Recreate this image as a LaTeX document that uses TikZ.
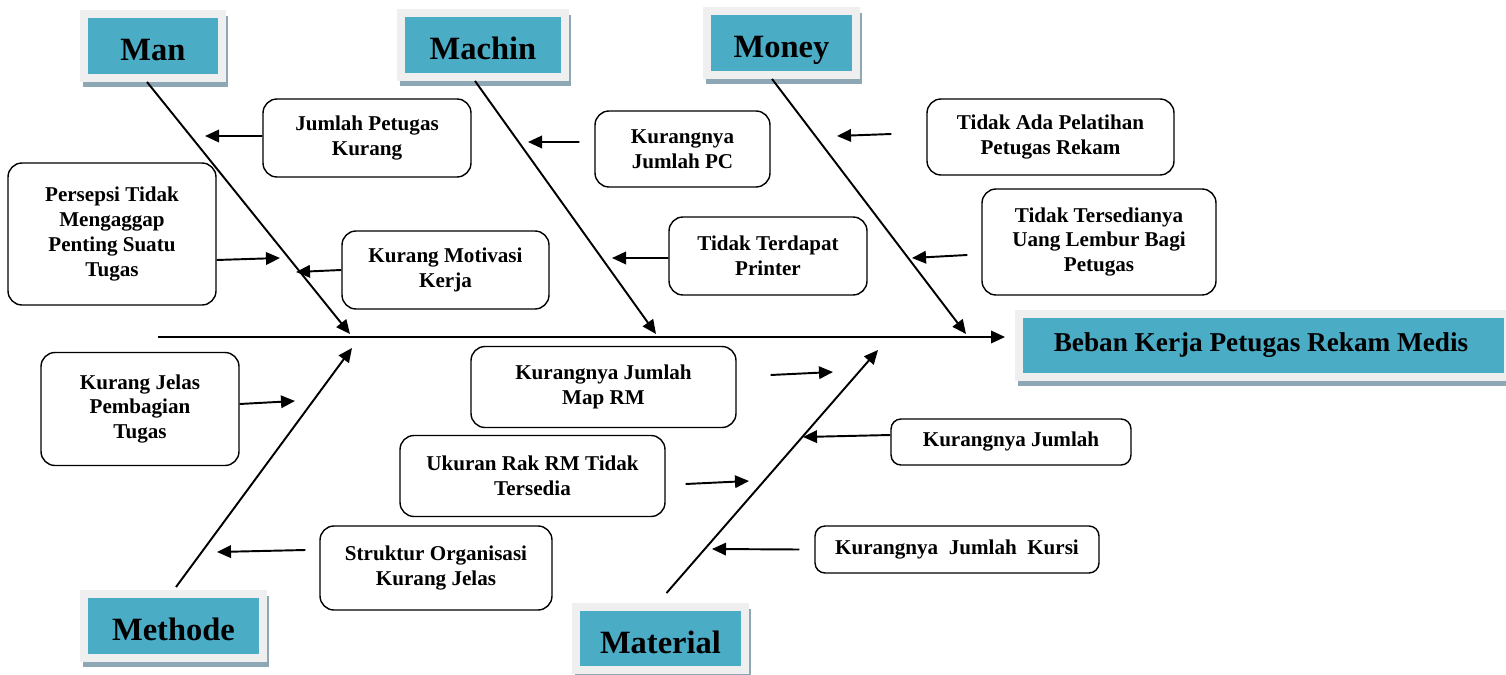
\documentclass[tikz,border=0pt]{standalone}
\usepackage{fontspec}
\setmainfont{Liberation Serif}
\usepackage{tikz}
\usetikzlibrary{arrows.meta,positioning,calc}
\definecolor{catFill}{HTML}{4BACC6}
\definecolor{catFrame}{HTML}{EFEFEF}
\definecolor{catShade}{HTML}{8DA8B4}

\begin{document}
\begin{tikzpicture}[x={(0.02cm,0)}, y={(0,-0.02cm)},
  cat/.style={fill=catFill, draw=catFrame, line width=0.16cm, inner sep=0pt,
    preaction={fill=catShade, draw=catShade, transform canvas={shift={(0.05cm,-0.11cm)}}}},
  catfont/.style={font=\fontsize{18.5}{22}\selectfont\bfseries, text height=0.58cm, text depth=0pt},
  cause/.style={draw, line width=0.8pt, rounded corners=0.28cm, align=center,
    inner sep=0pt, font=\fontsize{12}{14.2}\selectfont\bfseries},
  bone/.style={line width=1.1pt, -{Triangle[length=0.28cm,width=0.25cm]}},
  hint/.style={line width=1.1pt, -{Triangle[length=0.28cm,width=0.25cm]}}]
  \useasboundingbox (0,0) rectangle (1506,675);

  % categories
  \node[cat, catfont, minimum width=2.76cm, minimum height=1.28cm] (man) at (153,46) {Man};
  \node[cat, catfont, minimum width=3.28cm, minimum height=1.28cm] (machin) at (483,45) {Machin};
  \node[cat, catfont, minimum width=2.98cm, minimum height=1.28cm] (money) at (781.5,43) {Money};
  \node[cat, catfont, minimum width=3.58cm, minimum height=1.28cm] (methode) at (173.5,626) {Methode};
  \node[cat, catfont, minimum width=3.38cm, minimum height=1.26cm] (material) at (660.5,638.5) {Material};
  \node[cat, font=\fontsize{15.5}{18}\selectfont\bfseries, minimum width=9.78cm, minimum height=1.26cm]
    (efek) at (1263.5,345.5) {\hspace*{-0.1cm}Beban Kerja Petugas Rekam Medis};

  % spine and bones
  \coordinate (spine) at (158,337);
  \coordinate (tMan) at (350,334);
  \coordinate (tMachin) at (656,334);
  \coordinate (tMoney) at (966,334);
  \coordinate (tMethode) at (352,348);
  \coordinate (tMaterial) at (878,350);
  \draw[bone] (spine) -- ([xshift=-0.2cm]spine -| efek.west);
  \draw[bone] ([xshift=-0.12cm]man.south) -- (tMan);
  \draw[bone] ([xshift=-0.16cm]machin.south) -- (tMachin);
  \draw[bone] ([xshift=-0.19cm]money.south) -- (tMoney);
  \draw[bone] ([xshift=0.05cm,yshift=0.06cm]methode.north) -- (tMethode);
  \draw[bone] ([xshift=0.12cm,yshift=0.2cm]material.north) -- (tMaterial);

  % causes
  \node[cause, minimum width=4.16cm, minimum height=1.56cm] (petugas) at (367,138) {Jumlah Petugas\\Kurang};
  \node[cause, minimum width=4.16cm, minimum height=2.84cm] (persepsi) at (112,234) {Persepsi Tidak\\Mengaggap\\Penting Suatu\\Tugas};
  \node[cause, minimum width=4.14cm, minimum height=1.56cm] (motivasi) at (445.5,270) {Kurang Motivasi\\Kerja};
  \node[cause, minimum width=3.5cm, minimum height=1.52cm] (pc) at (682.5,149) {Kurangnya\\Jumlah PC};
  \node[cause, minimum width=3.96cm, minimum height=1.56cm] (printer) at (768,256) {Tidak Terdapat\\Printer};
  \node[cause, minimum width=4.94cm, minimum height=1.52cm] (pelatihan) at (1050.5,137) {Tidak Ada Pelatihan\\Petugas Rekam};
  \node[cause, minimum width=4.68cm, minimum height=2.12cm] (lembur) at (1099,242) {Tidak Tersedianya\\Uang Lembur Bagi\\Petugas};
  \node[cause, minimum width=3.96cm, minimum height=2.26cm] (jelas) at (140,409) {Kurang Jelas\\Pembagian\\Tugas};
  \node[cause, minimum width=5.3cm, minimum height=1.62cm] (map) at (603.5,387) {Kurangnya Jumlah\\Map RM};
  \node[cause, minimum width=5.3cm, minimum height=1.62cm] (rak) at (532.5,476) {Ukuran Rak RM Tidak\\Tersedia};
  \node[cause, minimum width=4.64cm, minimum height=1.68cm] (struktur) at (436,568) {Struktur Organisasi\\Kurang Jelas};
  \node[cause, rounded corners=0.2cm, minimum width=4.8cm, minimum height=0.92cm] (jumlah) at (1011,442) {Kurangnya Jumlah};
  \node[cause, rounded corners=0.2cm, minimum width=5.68cm, minimum height=0.94cm] (kursi) at (957,549.5) {Kurangnya~~Jumlah~~Kursi};

  % arrows from causes
  \coordinate (aPetugas) at (205,136);
  \coordinate (aPersepsi) at (280,258);
  \coordinate (aMotivasi) at (296,272);
  \coordinate (aPc) at (528,142);
  \coordinate (aPrinter) at (612,258);
  \coordinate (aPelatihan) at (837,136);
  \coordinate (aLembur) at (912,258);
  \coordinate (aJelas) at (295,401);
  \coordinate (aMap) at (833,372);
  \coordinate (aRak) at (749,481);
  \coordinate (aStruktur) at (217,552);
  \coordinate (aJumlah) at (803,437);
  \coordinate (aKursi) at (712,549);
  \draw[hint] ([yshift=0.04cm]petugas.west) -- (aPetugas);
  \draw[hint] ([yshift=-0.52cm]persepsi.east) -- (aPersepsi);
  \draw[hint] (motivasi.west) -- (aMotivasi);
  \draw[hint] ([xshift=-0.3cm,yshift=0.14cm]pc.west) -- (aPc);
  \draw[hint] ([yshift=-0.04cm]printer.west) -- (aPrinter);
  \draw[hint] ([xshift=-0.7cm,yshift=0.06cm]pelatihan.west) -- (aPelatihan);
  \draw[hint] ([xshift=-0.28cm,yshift=-0.26cm]lembur.west) -- (aLembur);
  \draw[hint] ([yshift=0.1cm]jelas.east) -- (aJelas);
  \draw[hint] ([xshift=0.68cm,yshift=0.24cm]map.east) -- (aMap);
  \draw[hint] ([xshift=0.4cm,yshift=-0.16cm]rak.east) -- (aRak);
  \draw[hint] ([xshift=-0.28cm,yshift=0.36cm]struktur.west) -- (aStruktur);
  \draw[hint] ([yshift=0.14cm]jumlah.west) -- (aJumlah);
  \draw[hint] ([xshift=-0.3cm]kursi.west) -- (aKursi);
\end{tikzpicture}
\end{document}
